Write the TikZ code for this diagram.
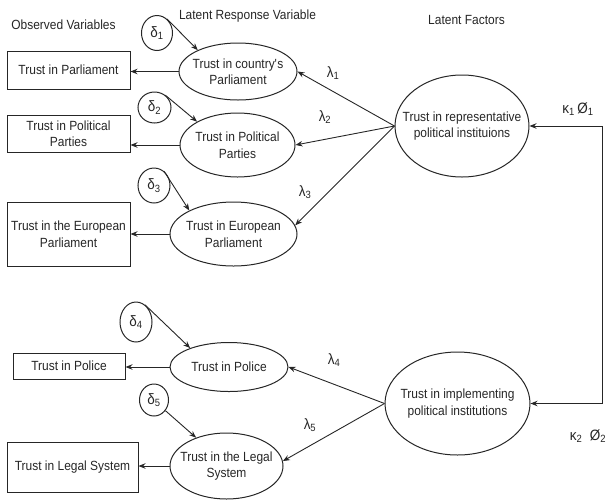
\documentclass[tikz,border=0pt]{standalone}
\usepackage{fontspec}
\setmainfont{Liberation Sans}[FakeStretch=0.9]
\usetikzlibrary{arrows.meta,shapes.geometric}
\definecolor{ink}{HTML}{262626}
\begin{document}
\begin{tikzpicture}[x=1pt,y=-1pt,
  every node/.style={text=ink, font=\fontsize{13.3}{16.5}\selectfont, align=center, inner sep=0pt},
  head/.style={text height=9.4pt, text depth=0pt},
  obs/.style={draw=ink, line width=1pt, rectangle},
  lat/.style={draw=ink, line width=1pt, ellipse},
  err/.style={draw=ink, line width=1pt, ellipse, font=\fontsize{15}{15}\selectfont},
  coef/.style={font=\fontsize{15}{15}\selectfont},
  link/.style={draw=ink, line width=0.9pt, -{Stealth[length=7pt,width=5.5pt]}},
  both/.style={draw=ink, line width=0.9pt, {Stealth[length=7pt,width=5.5pt]}-{Stealth[length=7pt,width=5.5pt]}}
]
\useasboundingbox (0,0) rectangle (608,499);

% column headings
\node[head] (hobs)  at (63.5,24.5) {Observed Variables};
\node[head] (hresp) at (247.5,14.5) {Latent Response Variable};
\node[head] (hfac)  at (466.5,20)  {Latent Factors};

% observed variables
\node[obs, minimum width=123pt, minimum height=38pt] (r1) at (68.5,70)  {Trust in Parliament};
\node[obs, minimum width=123pt, minimum height=37pt] (r2) at (68.5,133.5) {Trust in Political\\Parties};
\node[obs, minimum width=123pt, minimum height=64pt] (r3) at (68.5,234) {Trust in the European\\Parliament};
\node[obs, minimum width=112pt, minimum height=26pt] (r4) at (69,366)   {Trust in Police};
\node[obs, minimum width=131pt, minimum height=50pt] (r5) at (72.5,467) {Trust in Legal System};

% latent response variables
\node[lat, minimum width=118pt, minimum height=57pt, label={center:{Trust in country\textquotesingle s\\Parliament}}] (e1) at (238,71.5) {};
\node[lat, minimum width=115pt, minimum height=64pt, label={center:{Trust in Political\\Parties}}] (e2) at (237.5,145) {};
\node[lat, minimum width=127pt, minimum height=64pt, label={center:{Trust in European\\Parliament}}] (e3) at (233.5,234) {};
\node[lat, minimum width=118pt, minimum height=49pt, label={center:{Trust in Police}}] (e4) at (229,367) {};
\node[lat, minimum width=113pt, minimum height=66pt, label={center:{Trust in the Legal\\System}}] (e5) at (226.5,466) {};

% latent factors
\node[lat, minimum width=134pt, minimum height=102pt, label={center:{Trust in representative\\political instituions}}] (f1) at (462,126) {};
\node[lat, minimum width=145pt, minimum height=103pt, label={center:{Trust in implementing\\political institutions}}] (f2) at (457.5,403.5) {};

% error terms
\node[err, minimum width=31pt, minimum height=35pt] (d1) at (157,33)     {δ\textsubscript{1}};
\node[err, minimum width=33pt, minimum height=31pt] (d2) at (154.5,107.5) {δ\textsubscript{2}};
\node[err, minimum width=32pt, minimum height=35pt] (d3) at (154,185.5)  {δ\textsubscript{3}};
\node[err, minimum width=32pt, minimum height=40pt] (d4) at (136,322)    {δ\textsubscript{4}};
\node[err, minimum width=29pt, minimum height=32pt] (d5) at (154,400)    {δ\textsubscript{5}};

% errors into response variables
\draw[link] (d1.55) -- (e1.152);
\draw[link] (d2.49) -- (e2.150);
\draw[link] (d3.55) -- (e3.152);
\draw[link] (d4.62) -- (e4.154);
\draw[link] (d5.-43) -- (e5.137);

% response variables to observed variables
\draw[link] (e1.west) -- (r1.east |- e1.west);
\draw[link] (e2.west) -- (r2.east |- e2.west);
\draw[link] (e3.west) -- (r3.east |- e3.west);
\draw[link] (e4.west) -- (r4.east |- e4.west);
\draw[link] (e5.west) -- (r5.east |- e5.west);

% factor loadings
\draw[link] (f1.west) -- (e1.east);
\draw[link] (f1.west) -- (e2.east);
\draw[link] (f1.west) -- (e3.8);
\draw[link] (f2.west) -- (e4.east);
\draw[link] (f2.west) -- (e5.5);

\node[coef] (l1) at (333,73)  {λ\textsubscript{1}};
\node[coef] (l2) at (325,117) {λ\textsubscript{2}};
\node[coef] (l3) at (305,192) {λ\textsubscript{3}};
\node[coef] (l4) at (334,360) {λ\textsubscript{4}};
\node[coef] (l5) at (310,425) {λ\textsubscript{5}};

% covariance between the factors
\coordinate (rt) at (602,0);
\draw[both] (f1.east) -- (f1.east -| rt) -- (f2.east -| rt) -- (f2.east);

\node[coef, anchor=base] (k1) at (578,113) {κ\textsubscript{1}\,Ø\textsubscript{1}};
\node[coef, anchor=base] (k2) at (588,440) {κ\textsubscript{2}\enspace Ø\textsubscript{2}};
\end{tikzpicture}
\end{document}
